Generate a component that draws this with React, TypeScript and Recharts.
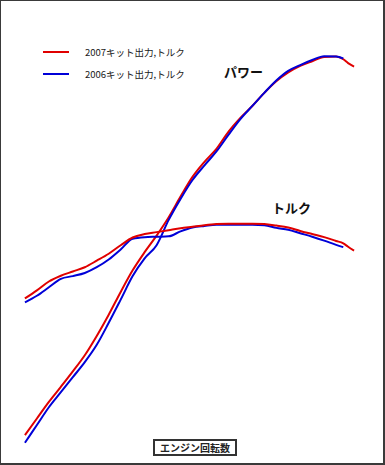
import { LineChart, Line, XAxis, YAxis, Legend } from 'recharts'

// エンジン回転数 (rpm)
const rpm = [
  3000, 3250, 3500, 3750, 4000, 4250, 4500, 4750, 5000, 5250, 5500, 5750, 6000, 6250,
  6500, 6750, 7000, 7250, 7500, 7750, 8000, 8250, 8500, 8750, 9000, 9250, 9500, 9650,
  9750, 9875,
]

// 出力 (PS)
const power2007 = [
  7.5, 11.8, 16.1, 20.0, 24.0, 28.2, 33.2, 38.7, 44.6, 50.2, 54.9, 59.2, 63.9, 69.3,
  74.4, 78.3, 81.7, 86.1, 89.7, 92.8, 96.2, 99.2, 101.5, 103.2, 104.4, 105.5, 105.6, 104.9,
  103.9, 103.0,
]
const power2006 = [
  5.5, 10.1, 14.7, 18.6, 22.5, 26.4, 30.9, 36.6, 42.6, 48.7, 53.3, 56.7, 63.2, 68.7,
  73.6, 77.4, 81.0, 85.3, 89.4, 92.8, 96.2, 99.4, 101.9, 103.4, 104.7, 105.7, 105.6, 105.1,
  null, null,
]

// トルク (kgf·m)
const torque2007 = [
  4.29, 4.5, 4.73, 4.88, 4.99, 5.1, 5.27, 5.45, 5.67, 5.87, 5.96, 6.01, 6.06, 6.11,
  6.15, 6.19, 6.22, 6.23, 6.23, 6.23, 6.22, 6.18, 6.13, 6.04, 5.96, 5.88, 5.78, 5.72,
  5.63, 5.53,
]
const torque2006 = [
  4.19, 4.36, 4.58, 4.8, 4.87, 4.95, 5.1, 5.3, 5.56, 5.84, 5.88, 5.89, 5.9, 6.03,
  6.13, 6.17, 6.2, 6.2, 6.2, 6.2, 6.19, 6.12, 6.07, 5.98, 5.89, 5.79, 5.68, 5.62,
  null, null,
]

const seriesNames = ['2007キット出力,トルク', '2006キット出力,トルク']
const RED = '#e00000'
const BLUE = '#0000d8'
const font = '"Noto Sans CJK JP", "Noto Sans", sans-serif'

const data = rpm.map((r, i) => ({
  rpm: r,
  p07: power2007[i],
  p06: power2006[i],
  t07: torque2007[i],
  t06: torque2006[i],
}))

function KitLegend({ payload }: any) {
  // only the two kit entries, 2007 first
  const items = (payload || [])
    .filter((e: any) => seriesNames.includes(e.value))
    .sort((a: any, b: any) => seriesNames.indexOf(a.value) - seriesNames.indexOf(b.value))
  return (
    <div style={{ fontFamily: font }}>
      {items.map((e: any) => (
        <div key={e.value} style={{ display: 'flex', alignItems: 'center', height: 21.7 }}>
          <svg width={26} height={4} style={{ display: 'block' }}>
            <line x1={0} y1={2} x2={26} y2={2} stroke={e.color} strokeWidth={2} />
          </svg>
          <span style={{ marginLeft: 16, fontSize: 9.5, color: '#1a1a1a', lineHeight: '12px' }}>
            {e.value}
          </span>
        </div>
      ))}
    </div>
  )
}

export default function App() {
  return (
    <div
      style={{
        position: 'relative',
        width: 385,
        height: 465,
        boxSizing: 'border-box',
        borderTop: '1px solid #3a3a3a',
        borderLeft: '1px solid #3a3a3a',
        borderRight: '2px solid #3a3a3a',
        borderBottom: '2px solid #3a3a3a',
        background: '#fff',
        fontFamily: font,
      }}
    >
      <style>{'body{margin:0}'}</style>
      <div style={{ position: 'absolute', left: 0, top: 0 }}>
        <LineChart width={383} height={463} data={data} margin={{ top: 0, right: 0, bottom: 0, left: 0 }}>
          <XAxis dataKey="rpm" type="number" domain={[2500, 10500]} hide />
          <YAxis yAxisId="p" domain={[0, 120]} hide />
          <YAxis yAxisId="t" orientation="right" domain={[0, 12]} hide />
          <Legend
            layout="vertical"
            align="center"
            verticalAlign="middle"
            wrapperStyle={{ left: 42, top: 40, width: 200 }}
            content={<KitLegend />}
          />
          <Line yAxisId="p" dataKey="p07" name={seriesNames[0]} stroke={RED} strokeWidth={2}
            type="monotone" dot={false} isAnimationActive={false} />
          <Line yAxisId="p" dataKey="p06" name={seriesNames[1]} stroke={BLUE} strokeWidth={2}
            type="monotone" dot={false} isAnimationActive={false} />
          <Line yAxisId="t" dataKey="t06" stroke={BLUE} strokeWidth={2} legendType="none"
            type="monotone" dot={false} isAnimationActive={false} />
          <Line yAxisId="t" dataKey="t07" stroke={RED} strokeWidth={2} legendType="none"
            type="monotone" dot={false} isAnimationActive={false} />
        </LineChart>
      </div>
      <span style={{ position: 'absolute', left: 223, top: 64, fontSize: 13, fontWeight: 700, lineHeight: '13px', color: '#111' }}>
        パワー
      </span>
      <span style={{ position: 'absolute', left: 271, top: 200, fontSize: 13, fontWeight: 700, lineHeight: '13px', color: '#111' }}>
        トルク
      </span>
      <div
        style={{
          position: 'absolute',
          left: 152,
          top: 438,
          width: 84,
          height: 17,
          boxSizing: 'border-box',
          border: '2px solid #333',
          fontSize: 10,
          fontWeight: 700,
          lineHeight: '13px',
          textAlign: 'center',
          color: '#222',
        }}
      >
        エンジン回転数
      </div>
    </div>
  )
}
